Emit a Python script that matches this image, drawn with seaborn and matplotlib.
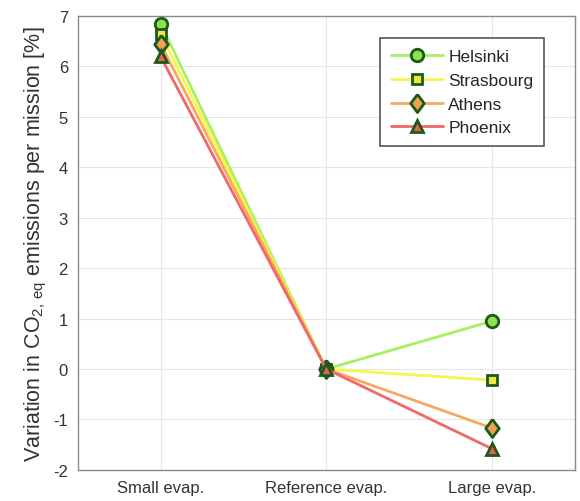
import matplotlib.pyplot as plt
import seaborn as sns
import numpy as np
import pandas as pd

scenarios = ['Small evap.', 'Reference evap.', 'Large evap.']
cities = ['Helsinki', 'Strasbourg', 'Athens', 'Phoenix']
helsinki = [6.85, 0.0, 0.95]
strasbourg = [6.65, 0.0, -0.22]
athens = [6.45, 0.0, -1.17]
phoenix = [6.2, 0.0, -1.58]

line_colors = ['#a8f060', '#f5f54a', '#f8a860', '#f06868']
face_colors = ['#90e050', '#e8e840', '#f0a050', '#e86050']
diamond = [(0, 1), (0.75, 0), (0, -1), (-0.75, 0), (0, 1)]
marker_list = ['o', 's', diamond, '^']
marker_sizes = [9, 7, 13, 9]

df = pd.DataFrame({
    'x': np.tile(np.arange(1, 4), 4),
    'value': helsinki + strasbourg + athens + phoenix,
    'city': np.repeat(cities, 3),
})

sns.set_style('whitegrid')
plt.rcParams['font.family'] = ['Liberation Sans', 'DejaVu Sans']
plt.rcParams['mathtext.fontset'] = 'custom'
plt.rcParams['mathtext.rm'] = 'Liberation Sans'
plt.rcParams['mathtext.it'] = 'Liberation Sans'
plt.rcParams['axes.unicode_minus'] = False

fig = plt.figure(figsize=(5.8, 5.02), dpi=100)
ax = fig.add_axes([0.134, 0.062, 0.857, 0.904])

for i, city in enumerate(cities):
    sns.lineplot(data=df[df['city'] == city], x='x', y='value', ax=ax,
                 color=line_colors[i], linewidth=2, label=city,
                 marker=marker_list[i], markersize=marker_sizes[i],
                 markerfacecolor=face_colors[i], markeredgecolor='#1c5a1c',
                 markeredgewidth=2)

ax.set_xlim(0.5, 3.5)
ax.set_ylim(-2, 7)
ax.set_xticks([1, 2, 3])
ax.set_xticklabels(scenarios, fontsize=12, color='#333333')
ax.set_yticks(range(-2, 8))
ax.tick_params(axis='y', labelsize=12, labelcolor='#333333')
ax.set_xlabel('')
ax.set_ylabel(r'Variation in CO$_{2,\,\mathrm{eq}}$ emissions per mission [%]',
              fontsize=15.5, color='#333333', labelpad=3)
ax.grid(True, color='#e6e6e6', linewidth=0.8)
for s in ax.spines.values():
    s.set_visible(True)
    s.set_color('#8a8a8a')
    s.set_linewidth(1)

leg = ax.legend(loc='upper right', bbox_to_anchor=(0.955, 0.97), fontsize=12.5,
                handlelength=3.0, frameon=True, fancybox=False,
                edgecolor='#555555', framealpha=1, borderpad=0.6,
                labelspacing=0.5, handletextpad=0.3)
leg.get_frame().set_linewidth(1.2)

fig.savefig('out.png', dpi=100)
